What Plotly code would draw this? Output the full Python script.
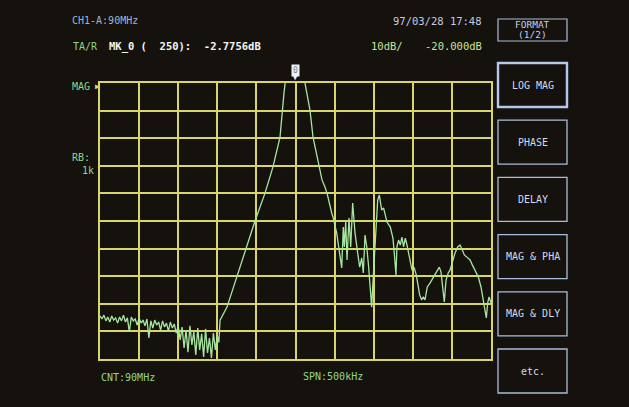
import plotly.graph_objects as go

# sweep: offset from centre (kHz) and LOG MAG reading (dB)
freq_khz = [
    -250, -247.5, -245, -242.5, -240, -237.5, -235, -232.5, -230, -227.5,
    -225, -222.5, -220, -217.5, -215, -212.5, -210, -207.5, -205, -202.5,
    -200, -197.5, -195, -192.5, -190, -187.5, -185, -182.5, -180, -177.5,
    -175, -172.5, -170, -167.5, -165, -162.5, -160, -157.5, -155, -152.5,
    -150, -147.5, -145, -142.5, -140, -137.5, -135, -132.5, -130, -127.5,
    -125, -122.5, -120, -117.5, -115, -112.5, -110, -107.5, -105, -102.5,
    -100, -98, -96.5, -92.7, -87.6, -51.8, -39.0, -28.8, -19.8, -14.7,
    -12.5, -10, -7, -4, 0, 4, 7, 10, 12.1, 18.5,
    22.4, 28.8, 33.9, 37.7, 40.3, 46.3, 48.0, 52.7, 56.9, 59.1,
    61.1, 62.4, 64.2, 65.9, 68.4, 70.6, 73.1, 76.1, 79.5, 82.1,
    84.7, 86.7, 88.9, 91.1, 93.1, 96.2, 97.4, 98.7, 100.8, 102.6,
    105.1, 107.2, 108.4, 110.2, 112.7, 117.0, 121.2, 124.6, 126.3, 128.5,
    129.7, 131.8, 134.0, 136.1, 138.2, 140.4, 142.6, 145.9, 149.0, 151.9,
    154.5, 156.7, 158.7, 161.3, 163.4, 165.6, 168.5, 172.0, 176.2, 180.6,
    183.9, 186.1, 188.6, 190.3, 192.5, 195.4, 197.6, 200.5, 204.0, 207.4,
    210.4, 213.3, 215.9, 218.9, 223.2, 226.1, 229.5, 233.8, 237.2, 240.2,
    242.3, 244.0, 245.8, 247.5, 250,
]
mag_db = [
    -104.4, -105.5, -104.1, -106.2, -104.8, -106.6, -104.4, -105.9, -105.1, -107.0,
    -104.8, -106.2, -104.1, -106.6, -105.1, -110.2, -104.8, -106.2, -105.5, -107.7,
    -105.1, -107.0, -105.9, -108.0, -105.5, -112.4, -106.2, -108.8, -105.9, -107.7,
    -106.6, -109.5, -106.2, -108.4, -107.0, -109.9, -106.6, -108.8, -107.3, -110.6,
    -108.0, -113.1, -108.4, -116.0, -109.5, -117.5, -108.0, -114.9, -110.2, -118.5,
    -108.8, -116.7, -110.9, -119.3, -109.1, -117.8, -112.4, -119.6, -110.6, -116.7,
    -111.5, -114.0, -105.9, -104.1, -101.2, -70.0, -59.9, -50.4, -39.6, -23.6,
    -18.0, -11.0, -5.0, -3.1, -2.78, -3.0, -4.6, -12.0, -20.0, -29.8,
    -39.6, -47.9, -55.1, -57.7, -59.9, -67.1, -68.6, -74.4, -83.0, -87.0,
    -72.2, -79.4, -70.4, -84.1, -68.9, -79.4, -63.5, -74.3, -81.6, -86.7,
    -83.4, -88.8, -75.1, -79.4, -85.2, -95.0, -101.2, -93.9, -84.1, -73.3,
    -62.4, -60.6, -63.1, -66.0, -65.3, -70.4, -72.2, -76.2, -81.6, -89.6,
    -79.4, -76.9, -78.7, -75.8, -79.4, -76.2, -78.7, -83.0, -87.8, -87.0,
    -89.6, -93.2, -96.7, -98.6, -97.5, -98.6, -93.9, -92.5, -90.3, -88.5,
    -86.7, -88.5, -93.9, -99.3, -91.4, -88.8, -87.8, -84.9, -81.6, -79.4,
    -78.7, -80.5, -82.3, -83.0, -84.1, -85.9, -87.8, -90.3, -93.9, -98.6,
    -103.3, -105.1, -99.7, -97.5, -99.7,
]

ref_level = -20
db_per_div = 10
span_khz = 500
menu_labels = ["LOG MAG", "PHASE", "DELAY", "MAG & PHA", "MAG & DLY", "etc."]

BG = "#15110d"
GRID = "#d8d66a"
TRACE = "#a6e6a0"
GREEN = "#8fd88a"
BLUE = "#a9bddc"
MONO = "DejaVu Sans Mono"

W, H = 629, 407
L, R, T, B = 100, 138, 83, 48
pw, ph = W - L - R, H - T - B


def px(x):
    return (x - L) / pw


def py(y):
    return (H - B - y) / ph


fig = go.Figure()
fig.add_trace(go.Scatter(
    x=freq_khz, y=mag_db, mode="lines",
    line=dict(color=TRACE, width=1.3), hoverinfo="skip"
))

ann = []


def txt(s, x, y, color, size=10, xanchor="left", bold=False):
    if bold:
        s = "<b>" + s + "</b>"
    ann.append(dict(text=s, x=px(x), y=py(y), xref="paper", yref="paper",
                    xanchor=xanchor, yanchor="middle", showarrow=False,
                    font=dict(family=MONO, size=size, color=color)))


txt("CH1-A:90MHz", 70, 21, "#9fb6cf")
txt("97/03/28 17:48", 484, 21, "#c2cee0", size=10.5, xanchor="right")
txt("TA/R", 71, 46, GREEN)
txt("MK_0 (  250):  -2.7756dB", 107, 46, "#f4f6f2", size=10.5, bold=True)
txt("%ddB/" % db_per_div, 369, 46, "#c6e49a", size=10.5)
txt("%.3fdB" % ref_level, 484, 46, "#c6e49a", size=10.5, xanchor="right")
txt("MAG", 70, 87, GREEN)
txt("▶", 93, 86, GRID, size=8)
txt("RB:", 70, 157, GREEN)
txt("1k", 96, 170, GREEN, xanchor="right")
txt("CNT:90MHz", 99, 377, GREEN)
txt("SPN:%dkHz" % span_khz, 301, 376, GREEN)

# marker flag
ann.append(dict(text="0", x=0, y=1, xref="x", yref="paper", yanchor="bottom",
                yshift=6, showarrow=False, bgcolor="#eef2f6", borderpad=1,
                font=dict(family=MONO, size=8, color="#7a7f86")))
ann.append(dict(text="▼", x=0, y=1, xref="x", yref="paper", yanchor="bottom",
                yshift=-1, showarrow=False,
                font=dict(family=MONO, size=7, color="#eef2f6")))

shapes = []
bx0, bx1 = px(498), px(567)
# FORMAT header box
shapes.append(dict(type="rect", xref="paper", yref="paper", x0=bx0, x1=bx1,
                   y0=py(41), y1=py(19), line=dict(color=BLUE, width=1.2)))
txt("FORMAT", 532.5, 25, "#c4d2ea", size=9.5, xanchor="center")
txt("(1/2)", 532.5, 35, "#c4d2ea", size=9.5, xanchor="center")
for i, lab in enumerate(menu_labels):
    top = 63 + i * 57.2
    sel = i == 0
    shapes.append(dict(type="rect", xref="paper", yref="paper", x0=bx0, x1=bx1,
                       y0=py(top + 44), y1=py(top),
                       line=dict(color="#b4c8ec" if sel else BLUE, width=2.4 if sel else 1.3)))
    txt(lab, 532.5, top + 22, "#cfdcf0", size=10, xanchor="center")

axis = dict(showgrid=True, gridcolor=GRID, gridwidth=2, zeroline=False,
            showticklabels=False, ticks="", showline=True, mirror=True,
            linecolor=GRID, linewidth=2)
fig.update_xaxes(range=[-span_khz / 2, span_khz / 2], dtick=50, **axis)
fig.update_yaxes(range=[ref_level - 10 * db_per_div, ref_level], dtick=db_per_div, **axis)

fig.update_layout(
    width=W, height=H,
    margin=dict(l=L, r=R, t=T, b=B),
    paper_bgcolor=BG, plot_bgcolor=BG,
    showlegend=False,
    annotations=ann, shapes=shapes,
)
fig.write_html("out.html", config={"displayModeBar": False},
               post_script="document.body.style.margin='0';"
               "document.body.style.background='%s';" % BG)
